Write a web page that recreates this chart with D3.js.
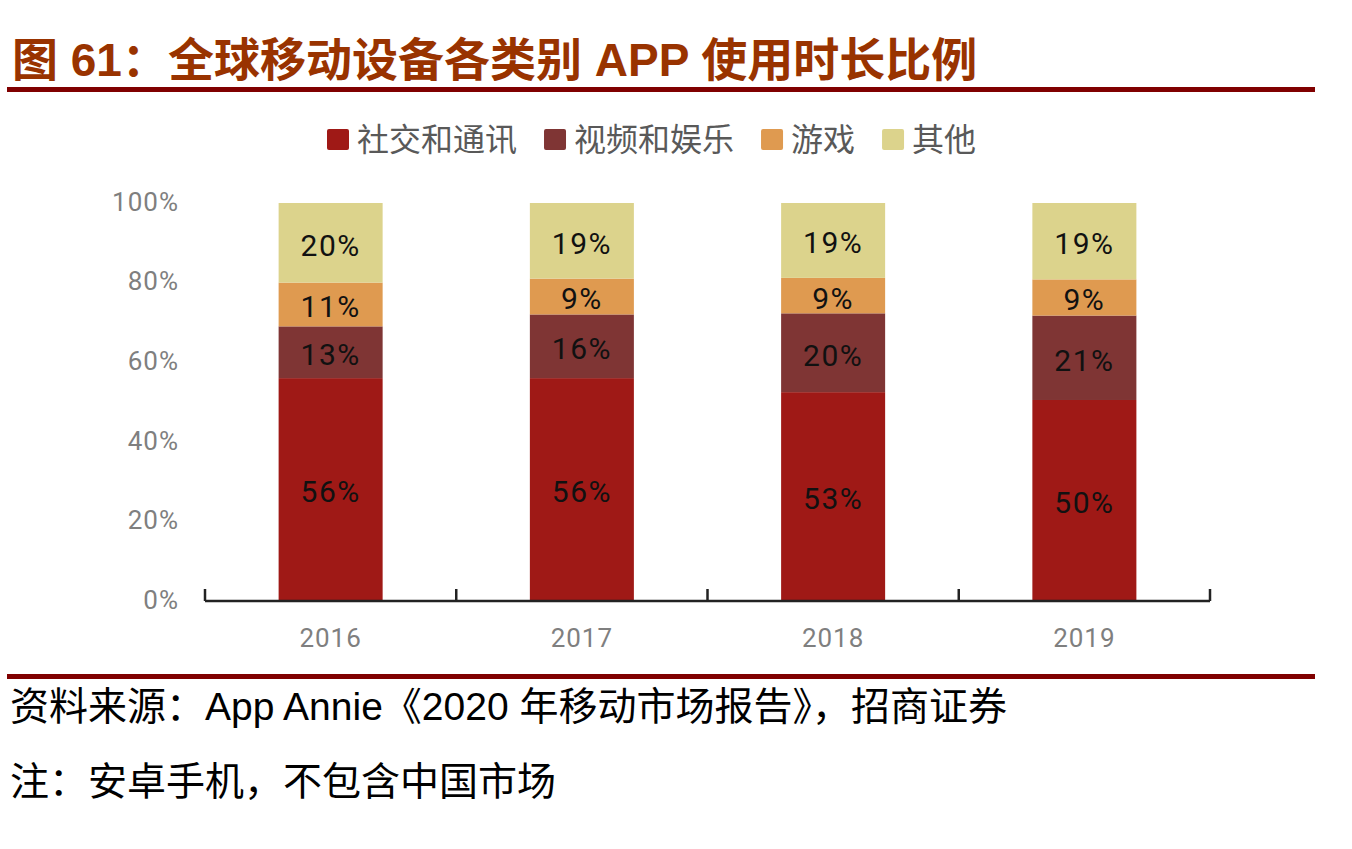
<!DOCTYPE html>
<html>
<head>
<meta charset="utf-8">
<script src="https://cdn.jsdelivr.net/npm/d3@7"></script>
<style>
  body { margin: 0; background: #fff; }
  svg { display: block; }
</style>
</head>
<body>
<div id="chart"></div>
<script>
// data
var years = ["2016", "2017", "2018", "2019"];
var seriesNames = ["社交和通讯", "视频和娱乐", "游戏", "其他"];
var social = [56, 56, 53, 50];
var video = [13, 16, 20, 21];
var games = [11, 9, 9, 9];
var other = [20, 19, 19, 19];
var yTicks = [0, 0.2, 0.4, 0.6, 0.8, 1];

var colors = ["#9f1916", "#7f3534", "#df9a50", "#dcd38c"];
var keys = ["social", "video", "games", "other"];

var rows = years.map(function(y, i) {
  return {year: y, social: social[i], video: video[i], games: games[i], other: other[i]};
});

var W = 1352, H = 849;
var plot = {left: 205, right: 1210, top: 203, bottom: 601};

var svg = d3.select("#chart")
  .append("svg")
    .attr("width", W)
    .attr("height", H);

var cjk = "'Liberation Sans', Arial, 'Noto Sans CJK SC', sans-serif";

// title + rules
svg.append("text")
  .attr("x", 12)
  .attr("y", 76)
  .attr("fill", "#993300")
  .style("font-family", cjk)
  .style("font-size", "46px")
  .style("font-weight", "bold")
  .text("图 61：全球移动设备各类别 APP 使用时长比例");

svg.append("rect").attr("x", 7).attr("y", 87).attr("width", 1308).attr("height", 5).attr("fill", "#800000");
svg.append("rect").attr("x", 7).attr("y", 674).attr("width", 1308).attr("height", 5).attr("fill", "#800000");

// scales
var x = d3.scaleBand()
  .domain(years)
  .range([plot.left, plot.right])
  .paddingInner(0.586)
  .paddingOuter(0.293);

var y = d3.scaleLinear()
  .domain([0, 1])
  .range([plot.bottom, plot.top]);

var stack = d3.stack().keys(keys).offset(d3.stackOffsetExpand);
var layers = stack(rows);

// bars
var g = svg.append("g");
layers.forEach(function(layer, li) {
  g.selectAll(".seg" + li)
    .data(layer)
    .enter()
    .append("rect")
      .attr("x", function(d) { return x(d.data.year); })
      .attr("y", function(d) { return y(d[1]); })
      .attr("width", x.bandwidth())
      .attr("height", function(d) { return y(d[0]) - y(d[1]); })
      .attr("fill", colors[li]);

  g.selectAll(".lab" + li)
    .data(layer)
    .enter()
    .append("text")
      .attr("x", function(d) { return x(d.data.year) + x.bandwidth() / 2; })
      .attr("y", function(d) { return (y(d[0]) + y(d[1])) / 2 + 5; })
      .attr("text-anchor", "middle")
      .attr("dominant-baseline", "middle")
      .attr("fill", "#111")
      .style("font-family", "Roboto, sans-serif")
      .style("font-size", "30px")
      .style("letter-spacing", "1.5px")
      .text(function(d) { return d.data[keys[li]] + "%"; });
});

// y axis labels (no line)
svg.append("g")
  .selectAll("text")
  .data(yTicks)
  .enter()
  .append("text")
    .attr("x", 179)
    .attr("y", function(d) { return y(d) + 1; })
    .attr("text-anchor", "end")
    .attr("dominant-baseline", "middle")
    .attr("fill", "#7f7f7f")
    .style("font-family", "Roboto, sans-serif")
    .style("font-size", "26px")
    .style("letter-spacing", "1px")
    .text(d3.format(".0%"));

// x axis: base line with upward ticks at the band edges
var edges = years.map(function(d) { return x(d) - x.step() * x.paddingOuter(); });
edges.push(plot.right);
var axis = svg.append("g").attr("stroke", "#222").attr("stroke-width", 2.5).attr("fill", "none");
axis.append("line")
  .attr("x1", plot.left).attr("x2", plot.right)
  .attr("y1", plot.bottom).attr("y2", plot.bottom);
axis.selectAll(".tick")
  .data(edges)
  .enter()
  .append("line")
    .attr("x1", function(d) { return d; })
    .attr("x2", function(d) { return d; })
    .attr("y1", plot.bottom)
    .attr("y2", plot.bottom - 12);

svg.append("g")
  .selectAll("text")
  .data(years)
  .enter()
  .append("text")
    .attr("x", function(d) { return x(d) + x.bandwidth() / 2; })
    .attr("y", 647)
    .attr("text-anchor", "middle")
    .attr("fill", "#7f7f7f")
    .style("font-family", "Roboto, sans-serif")
    .style("font-size", "26px")
    .style("letter-spacing", "1px")
    .text(function(d) { return d; });

// legend
var lx = 327;
seriesNames.forEach(function(name, i) {
  svg.append("rect")
    .attr("x", lx).attr("y", 129)
    .attr("width", 22).attr("height", 21)
    .attr("rx", 2)
    .attr("fill", colors[i]);
  var t = svg.append("text")
    .attr("x", lx + 30)
    .attr("y", 142)
    .attr("dominant-baseline", "middle")
    .attr("fill", "#595959")
    .style("font-family", "'Noto Sans CJK SC', sans-serif")
    .style("font-size", "32px")
    .text(name);
  lx = lx + 30 + t.node().getComputedTextLength() + 27;
});

// source notes
svg.append("text")
  .attr("x", 10)
  .attr("y", 720)
  .attr("fill", "#000")
  .style("font-family", cjk)
  .style("font-size", "39px")
  .text("资料来源：App Annie《2020 年移动市场报告》，招商证券");

svg.append("text")
  .attr("x", 10)
  .attr("y", 795)
  .attr("fill", "#000")
  .style("font-family", cjk)
  .style("font-size", "39px")
  .text("注：安卓手机，不包含中国市场");
</script>
</body>
</html>
